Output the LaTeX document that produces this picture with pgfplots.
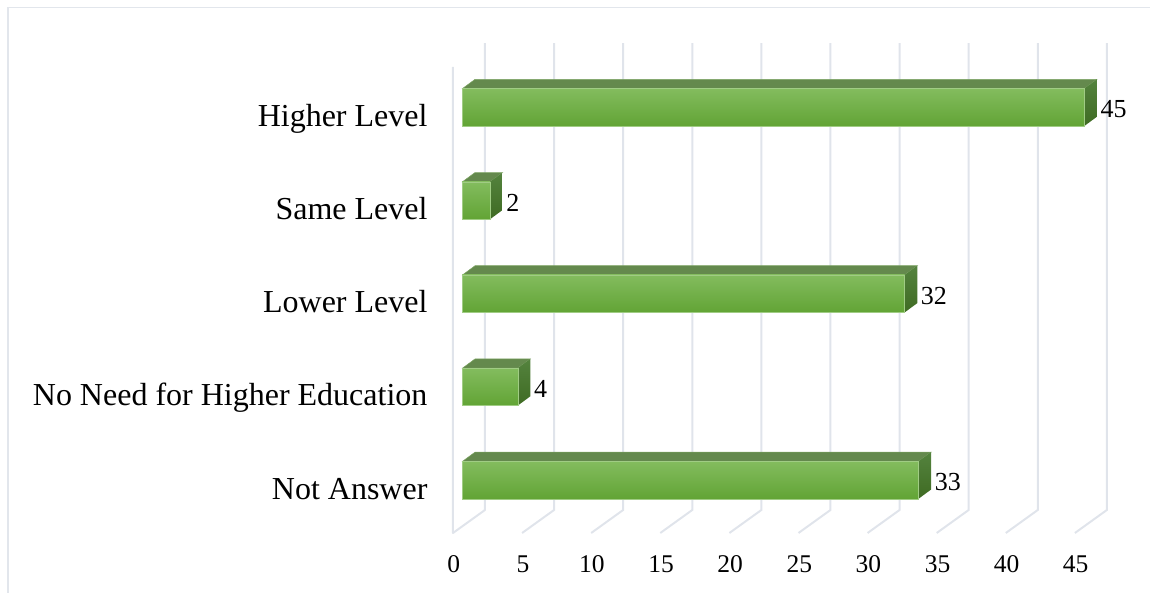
\documentclass[border=0pt]{standalone}
\usepackage{pgfplots}
\pgfplotsset{compat=1.18}
\usepackage{fontspec}
\setmainfont{Liberation Serif}
\definecolor{gridc}{HTML}{E0E4EB}
\definecolor{framec}{HTML}{E2E6EC}
\definecolor{barA}{HTML}{83BC5E}
\definecolor{barB}{HTML}{70B041}
\definecolor{barC}{HTML}{62A435}
\definecolor{edgec}{HTML}{A0CC84}
\definecolor{topc}{HTML}{64894D}
\definecolor{sideA}{HTML}{54833E}
\definecolor{sideB}{HTML}{3F6B23}
\pgfplotsset{
  frontbar/.style={xbar,bar width=37.4pt,bar shift=0pt,xshift=9.5pt,
    top color=barA,middle color=barB,bottom color=barC,draw=edgec,line width=.5pt,
    point meta=x,nodes near coords,
    every node near coord/.append style={font=\fontsize{26}{30}\selectfont,text=black,anchor=west,xshift=14pt,yshift=-2pt,inner sep=2pt}},
  topface/.style={fill=topc,draw=edgec!40!topc,line width=.5pt,xshift=9.5pt},
  sideface/.style={top color=sideA,bottom color=sideB,draw=none,xshift=9.5pt},
}
\begin{document}
\begin{tikzpicture}[x=1pt,y=1pt]
\path[use as bounding box] (-453,-60) rectangle (697,533);
\draw[framec,line width=1.5pt] (697,525.5) -- (-445,525.5) -- (-445,-60);
\begin{axis}[
  at={(0,0)},anchor=south west,
  x=13.82pt,y=93.2pt,
  xmin=0,xmax=48.3,ymin=-0.568,ymax=4.689,
  clip=false,
  axis line style={draw=none},
  major tick length=0pt,
  xtick={0,5,10,15,20,25,30,35,40,45},
  ytick={0,1,2,3,4},
  yticklabels={Not Answer,No Need for Higher Education,Lower Level,Same Level,Higher Level},
  /pgf/number format/assume math mode=true,
  xticklabel style={font=\fontsize{25.5}{30}\selectfont,yshift=-19pt,xshift=.8pt},
  yticklabel style={font=\fontsize{32}{38}\selectfont,anchor=east,xshift=-22pt,yshift=-12pt,text height=21pt,text depth=7pt},
  unbounded coords=jump,
]
% walls and floor lines
\addplot[gridc,line width=2pt,line join=round] coordinates {
(0,4.432)(0,-0.568)(2.315,-0.321)(2.315,4.689)
};
\addplot[gridc,line width=2pt] coordinates {
(5,-0.568)(7.315,-0.321)(7.315,4.689)(nan,nan)
(10,-0.568)(12.315,-0.321)(12.315,4.689)(nan,nan)
(15,-0.568)(17.315,-0.321)(17.315,4.689)(nan,nan)
(20,-0.568)(22.315,-0.321)(22.315,4.689)(nan,nan)
(25,-0.568)(27.315,-0.321)(27.315,4.689)(nan,nan)
(30,-0.568)(32.315,-0.321)(32.315,4.689)(nan,nan)
(35,-0.568)(37.315,-0.321)(37.315,4.689)(nan,nan)
(40,-0.568)(42.315,-0.321)(42.315,4.689)(nan,nan)
(45,-0.568)(47.315,-0.321)(47.315,4.689)
};
% top faces
\addplot[topface] coordinates {(0,4.2006)(45,4.2006)(45.905,4.2994)(.905,4.2994)} -- cycle;
\addplot[topface] coordinates {(0,3.2006)(2,3.2006)(2.905,3.2994)(.905,3.2994)} -- cycle;
\addplot[topface] coordinates {(0,2.2006)(32,2.2006)(32.905,2.2994)(.905,2.2994)} -- cycle;
\addplot[topface] coordinates {(0,1.2006)(4,1.2006)(4.905,1.2994)(.905,1.2994)} -- cycle;
\addplot[topface] coordinates {(0,.2006)(33,.2006)(33.905,.2994)(.905,.2994)} -- cycle;
% side faces
\addplot[sideface] coordinates {(45,3.7994)(45,4.2006)(45.905,4.2994)(45.905,3.8981)} -- cycle;
\addplot[sideface] coordinates {(2,2.7994)(2,3.2006)(2.905,3.2994)(2.905,2.8981)} -- cycle;
\addplot[sideface] coordinates {(32,1.7994)(32,2.2006)(32.905,2.2994)(32.905,1.8981)} -- cycle;
\addplot[sideface] coordinates {(4,.7994)(4,1.2006)(4.905,1.2994)(4.905,.8981)} -- cycle;
\addplot[sideface] coordinates {(33,-.2006)(33,.2006)(33.905,.2994)(33.905,-.1019)} -- cycle;
% front faces
\addplot[frontbar] coordinates {(33,0)};
\addplot[frontbar] coordinates {(4,1)};
\addplot[frontbar] coordinates {(32,2)};
\addplot[frontbar] coordinates {(2,3)};
\addplot[frontbar] coordinates {(45,4)};
\end{axis}
\end{tikzpicture}
\end{document}
